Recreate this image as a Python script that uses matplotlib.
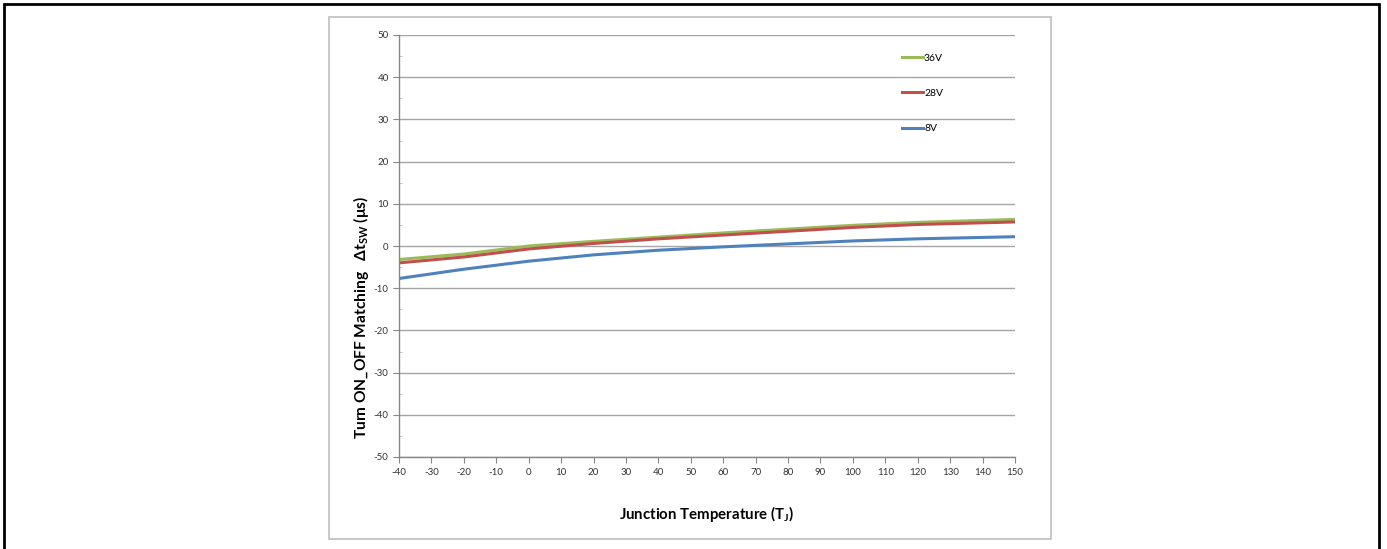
import matplotlib
matplotlib.use("Agg")
import matplotlib.pyplot as plt
from matplotlib.patches import Rectangle
from matplotlib.ticker import MultipleLocator

# Junction temperature (°C) and matching delta (µs)
temps = [-40, -20, 0, 20, 40, 60, 80, 100, 120, 150]
v36 = [-3.2, -1.9, 0.0, 1.1, 2.1, 3.1, 4.0, 4.9, 5.6, 6.3]
v28 = [-4.0, -2.6, -0.7, 0.6, 1.7, 2.6, 3.5, 4.4, 5.1, 5.7]
v8 = [-7.7, -5.5, -3.6, -2.1, -1.0, -0.2, 0.5, 1.2, 1.7, 2.2]

series_labels = ["36V", "28V", "8V"]
series_colors = ["#9BBB59", "#C0504D", "#4F81BD"]

plt.rcParams['font.family'] = ['Lato', 'DejaVu Sans']
plt.rcParams['mathtext.fontset'] = 'custom'
plt.rcParams['mathtext.rm'] = 'Lato'
plt.rcParams['mathtext.bf'] = 'Lato:bold'
plt.rcParams['axes.unicode_minus'] = False

W, H = 1387, 549
fig = plt.figure(figsize=(W / 100, H / 100), dpi=100)

# outer page border and chart frame (figure pixel coords)
fig.patches.append(Rectangle((4 / W, -0.1), 1375 / W, 1.1 - 4 / H, transform=fig.transFigure,
                             fill=False, edgecolor="black", linewidth=2))
fig.patches.append(Rectangle((329 / W, 1 - 539 / H), 722 / W, 522 / H, transform=fig.transFigure,
                             fill=False, edgecolor="#BFBFBF", linewidth=1.2))

ax = fig.add_axes([399 / W, 1 - 457 / H, 616 / W, 422 / H])

for vals, lab, col in zip([v36, v28, v8], series_labels, series_colors):
    ax.plot(temps, vals, color=col, linewidth=2.2, label=lab)

ax.set_xlim(-40, 150)
ax.set_ylim(-50, 50)
ax.xaxis.set_major_locator(MultipleLocator(10))
ax.yaxis.set_major_locator(MultipleLocator(10))
ax.yaxis.set_minor_locator(MultipleLocator(5))

ax.grid(axis="y", which="major", color="#A6A6A6", linewidth=1.0)
ax.set_axisbelow(True)
for s in ["top", "right"]:
    ax.spines[s].set_visible(False)
for s in ["left", "bottom"]:
    ax.spines[s].set_color("#868686")
    ax.spines[s].set_linewidth(1.0)

ax.tick_params(axis="both", which="major", length=4, color="#868686", labelsize=7,
               labelcolor="#333333", direction="out")
ax.tick_params(axis="y", which="minor", length=2, color="#BBBBBB", direction="in")
ax.tick_params(axis="x", pad=4)

ax.set_xlabel(r"Junction Temperature (T$_{\mathbf{J}}$)", fontsize=10.8, fontweight="bold", labelpad=19)
ax.set_ylabel("Turn ON_OFF Matching   Δt$_{\\mathbf{SW}}$ (μs)", fontsize=11.2, fontweight="bold",
              labelpad=2, y=0.33)

ax.legend(loc="upper left", bbox_to_anchor=(0.81, 0.966), frameon=False, fontsize=7.5,
          handlelength=2.0, handletextpad=0.1, labelspacing=2.5, borderaxespad=0)

fig.savefig("out.png", dpi=100)
